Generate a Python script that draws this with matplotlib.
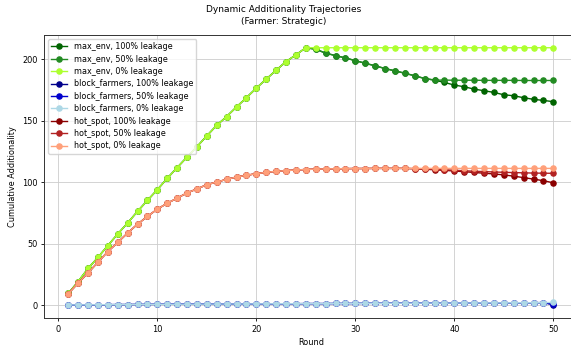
import matplotlib.pyplot as plt

rounds = list(range(1, 51))

# max_env scenario
max_env_0 = [9.7, 19.4, 30.0, 39.0, 48.6, 58.0, 67.0, 76.4, 85.3, 94.0,
             103.2, 111.9, 120.5, 128.9, 137.7, 146.3, 153.4, 161.2, 168.7, 176.5,
             183.8, 191.0, 198.0, 203.5, 209.3, 209.3, 209.3, 209.3, 209.3, 209.3,
             209.3, 209.3, 209.3, 209.3, 209.3, 209.3, 209.3, 209.3, 209.3, 209.3,
             209.3, 209.3, 209.3, 209.3, 209.3, 209.3, 209.3, 209.3, 209.3, 209.3]
max_env_100 = max_env_0[:25] + [208.1, 204.9, 202.9, 201.0, 198.8, 196.7, 194.6, 192.4, 190.5, 188.6,
                                186.5, 184.3, 183.0, 181.1, 179.0, 177.6, 175.7, 174.4, 173.0, 171.1,
                                170.3, 168.7, 167.4, 166.5, 165.5]
max_env_50 = max_env_100[:37] + [183.0, 183.0, 182.9, 182.9, 182.9, 182.8, 182.8, 182.8, 182.8, 182.7,
                                 182.7, 182.7, 182.7]

# block_farmers scenario
block_0 = [0.4, 0.5, 0.5, 0.6, 0.6, 0.7, 0.7, 0.8, 0.8, 0.9,
           0.9, 1.0, 1.0, 1.0, 1.1, 1.1, 1.2, 1.2, 1.2, 1.3,
           1.3, 1.4, 1.4, 1.4, 1.5, 1.5, 1.5, 1.6, 1.6, 1.6,
           1.7, 1.7, 1.7, 1.8, 1.8, 1.8, 1.9, 1.9, 1.9, 2.0,
           2.0, 2.0, 2.1, 2.1, 2.1, 2.2, 2.2, 2.2, 2.3, 2.4]
block_100 = block_0[:49] + [0.5]
block_50 = block_0[:49] + [0.9]

# hot_spot scenario
hot_0 = [9.5, 18.1, 26.4, 35.1, 43.7, 51.2, 58.8, 66.0, 72.3, 78.2,
         83.0, 87.1, 91.4, 94.6, 98.1, 100.2, 102.4, 104.3, 105.7, 107.0,
         108.1, 108.9, 109.5, 110.0, 110.4, 110.7, 110.9, 111.0, 111.1, 111.2,
         111.2, 111.3, 111.3, 111.3, 111.3, 111.3, 111.3, 111.3, 111.3, 111.3,
         111.3, 111.3, 111.3, 111.3, 111.3, 111.3, 111.3, 111.3, 111.3, 111.3]
hot_50 = hot_0[:35] + [111.1, 110.8, 110.5, 110.2, 109.8, 109.4, 109.0, 108.7, 108.4, 108.1,
                       107.9, 107.7, 107.5, 107.4, 107.3]
hot_100 = hot_0[:35] + [111.0, 110.6, 110.2, 109.7, 109.2, 108.6, 108.0, 107.4, 106.8, 106.0,
                        105.0, 103.8, 102.6, 101.3, 99.6]

series = [
    ("max_env, 100% leakage", max_env_100, "darkgreen"),
    ("max_env, 50% leakage", max_env_50, "forestgreen"),
    ("max_env, 0% leakage", max_env_0, "greenyellow"),
    ("block_farmers, 100% leakage", block_100, "darkblue"),
    ("block_farmers, 50% leakage", block_50, "mediumblue"),
    ("block_farmers, 0% leakage", block_0, "lightblue"),
    ("hot_spot, 100% leakage", hot_100, "darkred"),
    ("hot_spot, 50% leakage", hot_50, "firebrick"),
    ("hot_spot, 0% leakage", hot_0, "lightsalmon"),
]

fs = 5.9
fig = plt.figure(figsize=(5.71, 3.47), dpi=100)
ax = fig.add_axes([0.077, 0.0827, 0.9345, 0.8163])

for label, vals, col in series:
    ax.plot(rounds, vals, marker="o", color=col, label=label,
            linewidth=1.0, markersize=3.7)

ax.grid(True, color="#cccccc", linewidth=0.6)
ax.set_axisbelow(True)
ax.set_xlim(-1.45, 52.45)
ax.set_ylim(-10.45, 219.6)
ax.set_xticks([0, 10, 20, 30, 40, 50])
ax.set_yticks([0, 50, 100, 150, 200])
ax.tick_params(labelsize=fs, length=2.5, width=0.6, pad=2)
for s in ax.spines.values():
    s.set_linewidth(0.7)
    s.set_color("#333333")
ax.set_xlabel("Round", fontsize=fs, labelpad=3)
ax.set_ylabel("Cumulative Additionality", fontsize=fs, labelpad=4)
fig.suptitle("Dynamic Additionality Trajectories\n(Farmer: Strategic)",
             fontsize=6.5, x=0.497, y=0.985, va="top", linespacing=1.45)
ax.legend(loc="upper left", fontsize=5.8, handlelength=2.0, borderpad=0.4,
          labelspacing=0.42, framealpha=0.8)

plt.savefig("out.png", dpi=100)
